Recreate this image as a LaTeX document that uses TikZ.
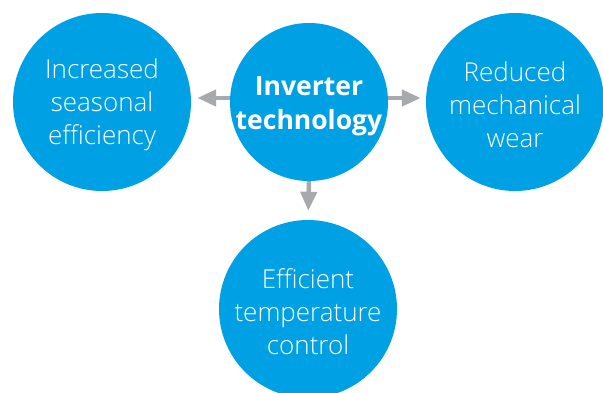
\documentclass[tikz,border=0pt]{standalone}
\usepackage{fontspec}
\setmainfont{Open Sans Light}[BoldFont={Open Sans Bold}]
\usetikzlibrary{arrows.meta}
\definecolor{bubble}{RGB}{0,161,228}
\definecolor{arrowgray}{RGB}{167,169,172}
\begin{document}
\begin{tikzpicture}[x=1pt,y=1pt,
  bubblenode/.style={circle,fill=bubble,inner sep=0pt},
  bubbletext/.style={text=white,align=center,inner sep=0pt,
    font=\fontsize{26}{33}\selectfont},
  boldtext/.style={bubbletext,font=\bfseries\fontsize{26.5}{34}\selectfont},
  conn/.style={draw=arrowgray,line width=4.5pt,-{Triangle[length=19pt,width=16pt]}}]
\useasboundingbox (0,0) rectangle (603,392);
\begin{scope}
\clip (0,0) rectangle (603,392);
\node[bubblenode,minimum size=178pt] (l) at (102,290) {};
\node[bubblenode,minimum size=158pt] (c) at (309,290) {};
\node[bubblenode,minimum size=178pt] (r) at (515,290) {};
\node[bubblenode,minimum size=178pt] (b) at (308,83) {};
\end{scope}
\node[bubbletext] (lt) at ([yshift=-3pt]l.center) {Increased\\seasonal\\efficiency};
\node[boldtext] (ct) at ([yshift=-4pt]c.center) {Inverter\\technology};
\node[bubbletext] (rt) at ([yshift=-3pt]r.center) {Reduced\\mechanical\\wear};
\node[bubbletext] (bt) at ([yshift=-3pt]b.center) {Efficient\\temperature\\control};
\draw[conn,shorten >=6pt] ([yshift=4pt]c.west) -- ([yshift=4pt]l.east);
\draw[conn,shorten >=5pt] ([yshift=4pt]c.east) -- ([yshift=4pt]r.west);
\draw[conn,shorten >=9pt] (c.south) -- (b.north);
\end{tikzpicture}
\end{document}
